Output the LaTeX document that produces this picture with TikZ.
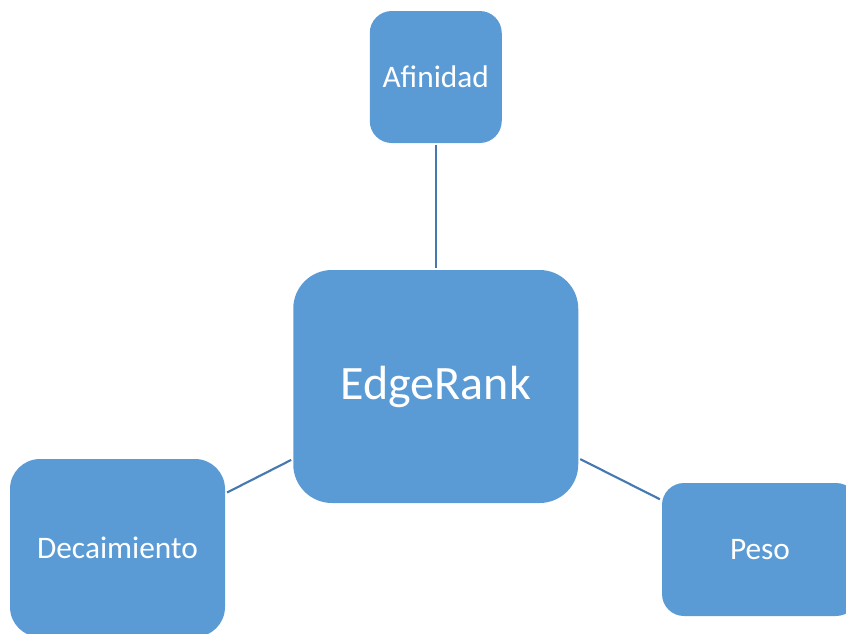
\documentclass[tikz,border=0pt]{standalone}
\usepackage{fontspec}
\setmainfont{Carlito}
\usetikzlibrary{positioning}
\definecolor{boxblue}{HTML}{5B9BD5}
\definecolor{linkblue}{HTML}{4679B0}

\tikzset{
    topic/.style={rectangle, fill=boxblue, text=white, align=center, inner sep=0pt},
    link/.style={draw=linkblue, line width=1.6pt, shorten <=1.5pt, shorten >=1.5pt}
}

\begin{document}
\begin{tikzpicture}[x=0.75pt, y=-0.75pt]
                \useasboundingbox (0,0) rectangle (846,633);
                \clip (0,0) rectangle (846,633);

                \node[topic, minimum width=213.75pt, minimum height=174.75pt, rounded corners=29pt,
                      font=\fontsize{36}{42}\selectfont] (edgerank) at (435.75,386.5) {EdgeRank};

                \node[topic, minimum width=99pt, minimum height=99pt, rounded corners=16.5pt,
                      font=\fontsize{23.5}{28}\selectfont] (afinidad) at (435.75,77) {Afinidad};

                \node[topic, minimum width=161.25pt, minimum height=133.5pt, rounded corners=22.5pt,
                      font=\fontsize{23.5}{28}\selectfont] (decaimiento) at (117.5,548) {Decaimiento};

                \node[topic, minimum width=147pt, minimum height=99.75pt, rounded corners=16.5pt,
                      font=\fontsize{23.5}{28}\selectfont] (peso) at (760,549.5) {Peso};

                \draw[link] (edgerank) -- (afinidad);
                \draw[link] (edgerank) -- (decaimiento);
                \draw[link] (edgerank) -- (peso);
\end{tikzpicture}
\end{document}
